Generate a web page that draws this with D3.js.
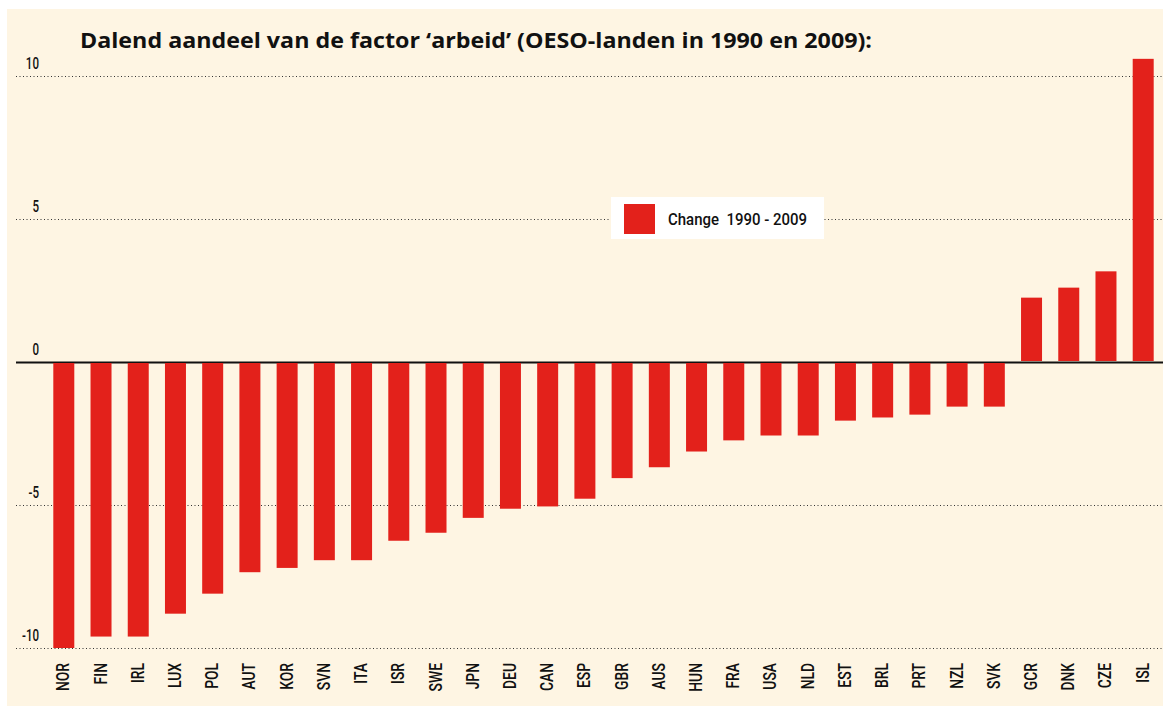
<!DOCTYPE html>
<html>
<head>
<meta charset="utf-8">
<script src="https://cdn.jsdelivr.net/npm/d3@7"></script>
<style>
  html, body { margin: 0; padding: 0; background: #fff; }
  svg { display: block; }
</style>
</head>
<body>
<div id="chart"></div>
<script>
// data
const countries = ['NOR', 'FIN', 'IRL', 'LUX', 'POL', 'AUT', 'KOR', 'SVN', 'ITA', 'ISR',
  'SWE', 'JPN', 'DEU', 'CAN', 'ESP', 'GBR', 'AUS', 'HUN', 'FRA', 'USA',
  'NLD', 'EST', 'BRL', 'PRT', 'NZL', 'SVK', 'GCR', 'DNK', 'CZE', 'ISL'];
const change = [-10.0, -9.6, -9.6, -8.8, -8.1, -7.35, -7.2, -6.93, -6.93, -6.25,
  -5.97, -5.45, -5.13, -5.05, -4.78, -4.06, -3.68, -3.13, -2.74, -2.57,
  -2.57, -2.05, -1.94, -1.84, -1.56, -1.56, 2.25, 2.6, 3.17, 10.6];
const yTicks = [-10, -5, 0, 5, 10];
const title = 'Dalend aandeel van de factor \u2018arbeid\u2019 (OESO-landen in 1990 en 2009):';
const legendLabel = 'Change  1990 - 2009';

const width = 1163, height = 706;
const red = '#e3211b';
const cream = '#fef5e3';
// the original uses a narrow font; Roboto squeezed sideways comes close
const labelFont = 'Roboto, "DejaVu Sans Condensed", sans-serif';

const svg = d3.select('#chart').append('svg')
  .attr('width', width)
  .attr('height', height);

// cream panel
svg.append('rect')
  .attr('x', 7).attr('y', 9)
  .attr('width', width - 7).attr('height', height - 9)
  .attr('fill', cream);

const x = d3.scaleBand()
  .domain(countries)
  .range([44, 1163])
  .paddingInner(0.436)
  .paddingOuter(0.25);

const y = d3.scaleLinear()
  .domain([-10, 10])
  .range([648, 76]);

// y axis with grid lines
const yAxis = svg.append('g')
  .attr('transform', 'translate(16,0)')
  .call(d3.axisLeft(y)
    .tickValues(yTicks)
    .tickSize(-(width - 16))
    .tickFormat(d => String(d)));

yAxis.select('.domain').remove();
yAxis.selectAll('.tick line')
  .attr('stroke', d => d === 0 ? '#111' : '#333')
  .attr('stroke-width', d => d === 0 ? 2 : 1)
  .attr('stroke-dasharray', d => d === 0 ? null : '1,2.5');
yAxis.selectAll('.tick text')
  .attr('x', 0)
  .attr('y', 0)
  .attr('dy', 0)
  .attr('transform', 'translate(23,-8) scale(0.68,1)')
  .attr('text-anchor', 'end')
  .attr('fill', '#111')
  .style('font-family', labelFont)
  .style('font-weight', 500)
  .style('font-size', '17px');

// bars
svg.append('g')
  .selectAll('rect')
  .data(countries)
  .join('rect')
  .attr('x', d => x(d))
  .attr('width', x.bandwidth())
  .attr('y', (d, i) => change[i] >= 0 ? y(change[i]) : y(0) + 1)
  .attr('height', (d, i) => Math.abs(y(change[i]) - y(0)) - 1)
  .attr('fill', red);

// x axis labels
const xAxis = svg.append('g')
  .attr('transform', 'translate(0,663)')
  .call(d3.axisBottom(x).tickSize(0));

xAxis.select('.domain').remove();
xAxis.selectAll('.tick text')
  .attr('x', 0)
  .attr('y', 0)
  .attr('dy', '0.36em')
  .attr('transform', 'translate(-1,0) rotate(-90) scale(0.77,1)')
  .attr('text-anchor', 'end')
  .attr('fill', '#111')
  .style('font-family', labelFont)
  .style('font-weight', 500)
  .style('font-size', '18px');

// title
svg.append('text')
  .attr('x', 80)
  .attr('y', 48)
  .attr('textLength', 792)
  .attr('lengthAdjust', 'spacingAndGlyphs')
  .style('font-family', '"Open Sans", Lato, sans-serif')
  .style('font-weight', 700)
  .style('font-size', '21px')
  .attr('fill', '#111')
  .text(title);

// legend
const legend = svg.append('g').attr('transform', 'translate(611,197)');
legend.append('rect')
  .attr('width', 213).attr('height', 42)
  .attr('fill', '#fff');
legend.append('rect')
  .attr('x', 13).attr('y', 7)
  .attr('width', 31).attr('height', 30)
  .attr('fill', red);
legend.append('text')
  .attr('x', 57)
  .attr('y', 28)
  .attr('textLength', 139)
  .attr('lengthAdjust', 'spacingAndGlyphs')
  .attr('fill', '#111')
  .style('font-family', labelFont)
  .style('font-weight', 500)
  .style('font-size', '17px')
  .style('white-space', 'pre')
  .text(legendLabel);
</script>
</body>
</html>
